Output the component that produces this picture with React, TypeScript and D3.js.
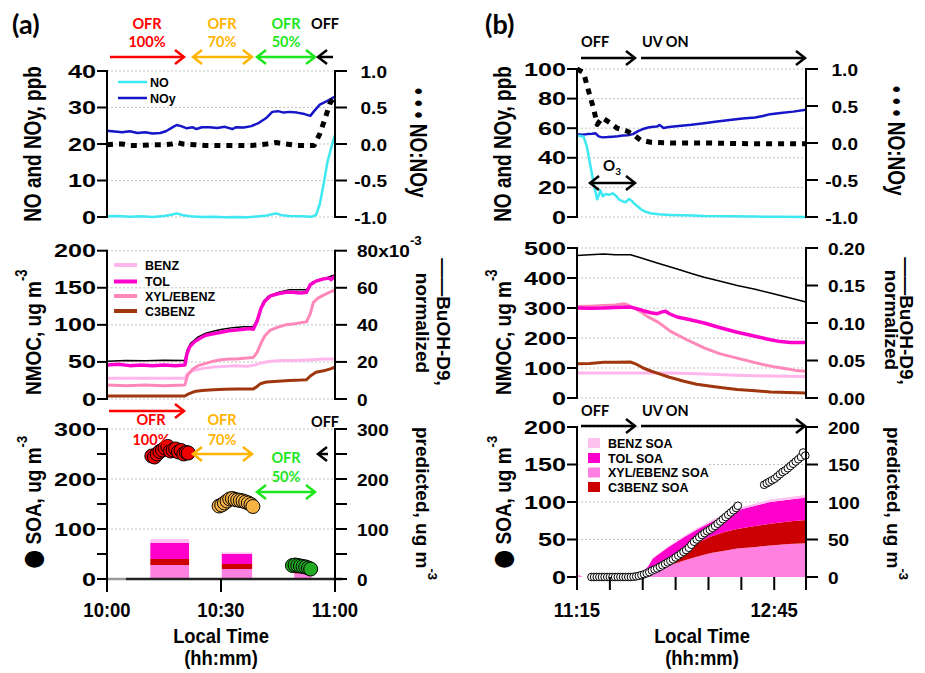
import React, { useRef, useEffect } from 'react';
import * as d3 from 'd3';

type Pt = [number, number];

// ---------- panel (a): minutes after 10:00 ----------
const aNO: Pt[] = [[0, 0.2], [3, 0.3], [6, 0.1], [9, 0.2], [12, 0.0], [15, 0.3], [17, 0.6], [18.3, 1.0], [20, 0.5], [22, 0.2], [25, 0.0], [28, 0.1], [31, -0.1], [34, 0.0], [37, -0.1], [40, 0.2], [42, 0.4], [44.5, 1.0], [46, 0.5], [48, 0.3], [51, 0.2], [54, 0.1], [55, 0.6], [56, 3.5], [57, 9], [58, 15], [59, 19], [60, 22.5]];
const aNOy: Pt[] = [[0, 23.6], [2, 23.4], [4, 23.2], [6, 23.5], [8, 23.0], [10, 23.2], [12, 22.9], [14, 23.0], [15.5, 23.5], [17, 24.4], [18.3, 25.2], [19.5, 24.9], [21, 24.3], [22.5, 24.6], [23.5, 24.1], [25, 24.6], [27, 24.6], [29, 24.4], [31, 24.7], [33, 24.1], [34, 24.6], [36, 24.5], [38, 24.9], [40, 25.8], [42, 27.2], [43.5, 28.8], [45, 29.0], [46.5, 28.6], [48, 28.8], [50, 28.6], [52, 28.2], [53.5, 27.7], [54.5, 29.0], [56, 30.8], [58, 31.8], [60, 33.0]];
const aRatio: Pt[] = [[0, -0.01], [2, 0.0], [4, 0.0], [6, -0.02], [9, -0.02], [12, -0.01], [15, -0.01], [17, 0.0], [18.5, 0.02], [20, 0.0], [23, -0.01], [26, -0.02], [30, -0.02], [34, -0.02], [38, -0.02], [40, -0.01], [42, 0.0], [44.5, 0.02], [47, 0.0], [50, -0.02], [54.5, -0.02], [56, 0.14], [57.4, 0.35], [58.7, 0.56], [60, 0.66]];

const aTOL: Pt[] = [[0, 46], [3, 47], [6, 45], [9, 46], [12, 45], [15, 46], [18, 45], [20.5, 46], [21, 60], [21.7, 70], [23, 77], [24.5, 82], [26, 86], [28, 88], [30, 90], [32, 92], [34, 93], [36, 94], [37.5, 95], [38.5, 94], [39.5, 105], [40.5, 122], [41.5, 132], [43, 139], [45, 142], [47, 144], [49, 144], [51, 143], [52.5, 144], [53.5, 154], [55, 159], [57, 162], [58.5, 163], [59, 161], [60, 166]];
const aBuOH: Pt[] = [[0, 20.4], [5, 20.8], [10, 20.7], [15, 20.9], [20.5, 20.8], [21, 26], [22, 30], [24, 33.5], [26, 35.5], [28, 36.5], [30, 37.5], [33, 38.5], [36, 39], [38.5, 39], [40, 45], [41, 52], [42.5, 55.5], [45, 57.5], [48, 59], [50, 59], [52.5, 59], [54, 63], [56, 64.5], [58, 65.5], [60, 67]];
const aXYL: Pt[] = [[0, 19], [5, 18], [10, 19], [15, 18], [20.5, 19], [21.2, 32], [22.5, 40], [24, 45], [26, 48], [28, 51], [30, 53], [32, 54], [34, 54], [36, 55], [38.5, 56], [39.5, 63], [40.5, 75], [41.5, 85], [43, 93], [45, 97], [47, 100], [49, 101], [51, 103], [52.5, 104], [53.5, 115], [54.3, 130], [55.5, 136], [57, 140], [59, 145], [60, 147]];
const aBENZ: Pt[] = [[0, 28], [10, 28], [20.5, 28], [21.2, 34], [22.5, 38], [25, 41], [28, 43], [31, 44], [34, 45], [37, 44], [39, 46], [41, 49], [43, 51], [46, 52], [50, 52], [54, 53], [57, 54], [60, 54]];
const aC3: Pt[] = [[0, 4], [10, 4], [20.5, 4], [21.5, 7], [23, 10], [25, 11.5], [28, 12.5], [31, 13], [34, 13.5], [38.5, 13.5], [39.5, 17], [40.5, 21], [42, 23], [45, 24], [48, 25], [51, 25.5], [52.5, 26], [53.5, 31], [55, 36], [57, 38], [59, 41], [60, 43]];

const aSoaRed: Pt[] = [[11.8, 246], [12.5, 244], [13.2, 250], [13.9, 255], [14.6, 258], [15.3, 262], [16.0, 265], [16.7, 256], [17.4, 258], [18.1, 260], [18.8, 254], [19.5, 257], [20.2, 250], [20.9, 253], [21.4, 252]];
const aSoaOrange: Pt[] = [[29.5, 146], [30.2, 148], [30.9, 152], [31.6, 156], [32.3, 160], [33, 161], [33.7, 159], [34.4, 158], [35.1, 157], [35.8, 156], [36.5, 154], [37.2, 152], [37.9, 149], [38.4, 145]];
const aSoaGreen: Pt[] = [[48.8, 27], [49.5, 28], [50.2, 27], [50.9, 26], [51.6, 25], [52.3, 24], [53, 22], [53.6, 20]];

const aBarStart = [11.4, 30.2, 49.3];
const aBarEnd = [21.6, 38.2, 53.8];
const aXylSoa = [28, 20, 11];
const aC3Soa = [12, 10, 6];
const aTolSoa = [32, 20, 4];
const aBenzSoa = [8, 3, 2];

// ---------- panel (b): minutes after 11:15 ----------
const bNOy: Pt[] = [[0, 56], [2.3, 55.6], [4.6, 56], [7, 56.2], [8.4, 56.6], [9.9, 54.5], [11.6, 53.8], [13.9, 54], [16.3, 54.3], [18.6, 54.6], [20.9, 55], [23.2, 55.2], [25.5, 56], [27.9, 58], [30.2, 59.5], [32.5, 60.5], [34.8, 61], [36.6, 61.2], [37.7, 62.2], [39.5, 60.2], [41.8, 60.8], [46.4, 61.5], [52.2, 62.3], [58, 63.3], [63.9, 64.5], [69.7, 65.5], [75.5, 66.5], [81.3, 67.2], [84.8, 68.2], [88.2, 69.5], [92.9, 70.3], [98.7, 71.2], [104.5, 72.5]];
const bNO: Pt[] = [[0, 55], [3, 54.4], [4.5, 47.6], [6.2, 34], [7.9, 20.5], [9.2, 12], [10, 15], [10.7, 18], [11.8, 14], [13, 15.5], [14.5, 15], [16.3, 16], [18, 14], [19, 12], [20.9, 10.5], [22.3, 10], [23.7, 12.2], [25, 11], [25.9, 9.3], [27.9, 7], [29, 5.4], [31.3, 3.5], [33.6, 2.5], [37.2, 1.8], [42.7, 1.4], [52.2, 1.0], [58, 0.7], [69.7, 0.5], [81.3, 0.3], [92.9, 0.1], [104.5, 0]];
const bRatio: Pt[] = [[0, 1.0], [3, 0.95], [5.3, 0.7], [7.7, 0.45], [9.2, 0.25], [11.5, 0.34], [15.2, 0.27], [18.3, 0.2], [22.9, 0.16], [25.9, 0.11], [29, 0.04], [33.6, 0.01], [42.7, 0.0], [58, 0.0], [81.3, -0.01], [104.5, -0.01]];

const bBuOH: Pt[] = [[0, 0.19], [5.8, 0.191], [12.2, 0.192], [17.4, 0.191], [24.4, 0.191], [29, 0.187], [36.6, 0.18], [45.7, 0.172], [52.2, 0.166], [58, 0.161], [65, 0.156], [73.1, 0.15], [81.3, 0.145], [88.2, 0.14], [96.4, 0.134], [104.5, 0.128]];
const bTOL: Pt[] = [[0, 300], [5.8, 299], [12.2, 300], [17.4, 302], [24.4, 303], [27.3, 298], [30.2, 291], [33.7, 284], [36.6, 281], [38.9, 287], [40.4, 289], [42.4, 280], [45.7, 270], [52.2, 260], [58, 250], [65, 235], [73.1, 219], [81.3, 206], [88.2, 194], [92.9, 188], [97.5, 185], [104.5, 185]];
const bXYL: Pt[] = [[0, 305], [5.8, 306], [12.2, 308], [17.4, 310], [21.4, 314], [23.2, 310], [25.9, 300], [29, 288], [32, 272], [37.2, 252], [42.7, 222], [49.9, 195], [58, 167], [65, 148], [73.1, 133], [79, 122], [85.4, 111], [90.6, 103], [96.1, 97], [99.8, 92], [104.5, 89]];
const bBENZ: Pt[] = [[0, 83], [23.2, 83], [42.7, 83], [58, 80], [73.1, 76], [88.2, 73], [104.5, 72]];
const bC3: Pt[] = [[0, 114], [5.8, 115], [12.2, 119], [17.4, 119], [24.4, 120], [26.7, 114], [30.2, 100], [33.7, 90], [36.6, 83], [41.8, 70], [48.8, 56], [54.6, 46], [61.1, 39], [67.3, 33], [73.1, 28], [81.3, 24], [88.2, 20], [96.4, 18], [104.5, 17]];

const bSoaMeas: Pt[] = [[6.6, 0], [7.8, 0], [9.0, 0], [10.2, 0], [11.4, 0], [12.6, 0], [13.8, 0], [15.0, 0], [16.2, 0], [17.4, 0], [18.6, 0], [19.8, 0], [21.0, 0], [22.2, 0], [23.4, 0], [24.6, 0], [25.8, 0.3], [27.0, 0.8], [28.2, 1.5], [29.4, 2.5], [30.6, 3.6], [31.8, 5], [33.0, 6.5], [34.2, 8.5], [35.4, 10], [36.6, 11.5], [37.8, 13.5], [39.0, 15.5], [40.2, 17.5], [41.4, 19.5], [42.6, 21.5], [43.8, 23.5], [45.0, 26], [46.2, 28.5], [47.4, 31], [48.6, 33.5], [49.8, 36], [51.0, 39], [52.2, 43], [53.4, 47], [54.6, 50], [55.8, 53], [57.0, 56], [58.2, 58.5], [59.4, 61], [60.6, 63], [61.8, 65.5], [63.0, 68], [64.2, 71], [65.4, 74], [66.6, 77], [67.8, 80], [69.0, 83], [70.2, 86], [71.4, 89], [72.6, 92], [73.4, 95], [85.4, 123], [86.6, 125], [87.8, 127], [89.0, 129], [90.2, 131], [91.4, 134], [92.6, 137], [93.8, 140], [95.0, 142], [96.2, 145], [97.4, 148], [98.6, 151], [99.8, 154], [101.0, 157], [102.2, 160], [103.2, 166], [104.2, 162]];

const bSoaTime = [0, 1.2, 2.3, 3.5, 25.5, 27.9, 30.2, 32.5, 34.5, 36.6, 41.8, 48.8, 54.6, 61.1, 67.3, 73.1, 81.3, 88.2, 96.4, 104.5];
const bXylSoa = [1.5, 1.5, 0.5, 0, 0, 0.3, 1.5, 4, 6.5, 9, 15, 22, 27, 32, 35, 38, 40, 42, 44, 45];
const bC3Soa = [0, 0, 0, 0, 0, 0.5, 2, 3.5, 5, 7, 10, 14, 18, 22, 25, 26, 28, 29, 30, 31];
const bTolSoa = [0.5, 0.5, 0, 0, 0, 1, 3.5, 7, 13, 13, 15, 17, 18, 19, 22, 25, 27, 29, 29, 30];
const bBenzSoa = [0, 0, 0, 0, 0, 0.2, 0.3, 0.5, 0.8, 1, 1.5, 1.8, 2, 2.3, 2.5, 2.8, 3, 3.2, 3.4, 3.6];

// ---------- tick labels ----------
const aXTicks = [0, 30, 60];
const aXLabels = ['10:00', '10:30', '11:00'];
const bXTicks = [0, 15, 30, 45, 60, 75, 90];
const bXLabels = ['11:15', '', '', '', '', '', '12:45'];

const FONT = "'Liberation Sans', Arial, sans-serif";
const LFONT = "Lato, 'Open Sans', sans-serif";
const C = {
  no: '#3ee8f2', noy: '#1616c8', benz: '#ffb6ec', tol: '#ff00cc', xyl: '#ff88bb', c3: '#a0360e',
  benzSoa: '#ffc2f0', tolSoa: '#ff00cc', xylSoa: '#ff80e0', c3Soa: '#cc0000',
  red: '#ff0000', orange: '#ffb400', green: '#1ee61e',
};

export default function App() {
  const ref = useRef<SVGSVGElement>(null);

  useEffect(() => {
    if (!ref.current) return;
    const svg = d3.select(ref.current);
    svg.selectAll('*').remove();
    svg.append('rect').attr('width', 925).attr('height', 673).attr('fill', '#fff');

    // scales
    const aX = d3.scaleLinear().domain([0, 60]).range([107, 335]);
    const bX = d3.scaleLinear().domain([0, 104.5]).range([577, 806]);
    const aTopY = d3.scaleLinear().domain([0, 40]).range([217, 71]);
    const aTopY2 = d3.scaleLinear().domain([-1, 1]).range([217, 71]);
    const aMidY = d3.scaleLinear().domain([0, 200]).range([399, 250.7]);
    const aMidY2 = d3.scaleLinear().domain([0, 80]).range([399, 250.7]);
    const aBotY = d3.scaleLinear().domain([0, 300]).range([579, 429]);
    const bTopY = d3.scaleLinear().domain([0, 100]).range([217, 69]);
    const bTopY2 = d3.scaleLinear().domain([-1, 1]).range([217, 69]);
    const bMidY = d3.scaleLinear().domain([0, 500]).range([398, 248]);
    const bMidY2 = d3.scaleLinear().domain([0, 0.2]).range([398, 248]);
    const bBotY = d3.scaleLinear().domain([0, 200]).range([577, 427]);

    const grid = (x0: number, x1: number, y: any, vals: number[]) => {
      vals.forEach(v => {
        svg.append('line').attr('x1', x0).attr('x2', x1).attr('y1', y(v)).attr('y2', y(v))
          .attr('stroke', '#c4c4c4').attr('stroke-width', 1).attr('stroke-dasharray', '2,2');
      });
    };

    const path = (data: Pt[], x: any, y: any, color: string, w: number, dash?: string) => {
      const p = svg.append('path').datum(data)
        .attr('fill', 'none').attr('stroke', color).attr('stroke-width', w)
        .attr('stroke-linejoin', 'round')
        .attr('d', d3.line<Pt>().x(d => x(d[0])).y(d => y(d[1])));
      if (dash) p.attr('stroke-dasharray', dash);
    };

    const leftAxis = (x0: number, y: any, ticks: number[], labelled: number[], bottom?: number) => {
      const [lo, hi] = y.domain();
      svg.append('line').attr('x1', x0).attr('x2', x0).attr('y1', y(hi) - 1).attr('y2', bottom ?? y(lo) + 1)
        .attr('stroke', '#000').attr('stroke-width', 2);
      ticks.forEach(t => {
        svg.append('line').attr('x1', x0 - 10).attr('x2', x0).attr('y1', y(t)).attr('y2', y(t))
          .attr('stroke', '#000').attr('stroke-width', 2);
      });
      labelled.forEach(t => {
        svg.append('text').attr('transform', `translate(${x0 - 11},${y(t) + 6.5}) scale(1.4,1)`)
          .attr('text-anchor', 'end').attr('font-family', FONT).attr('font-weight', 'bold')
          .attr('font-size', 18).text(String(t));
      });
    };

    const rightAxis = (x0: number, y: any, ticks: number[], labels: [number, string][], align: string, bottom?: number) => {
      const [lo, hi] = y.domain();
      svg.append('line').attr('x1', x0).attr('x2', x0).attr('y1', y(hi) - 1).attr('y2', bottom ?? y(lo) + 1)
        .attr('stroke', '#000').attr('stroke-width', 2);
      ticks.forEach(t => {
        svg.append('line').attr('x1', x0).attr('x2', x0 + 12).attr('y1', y(t)).attr('y2', y(t))
          .attr('stroke', '#000').attr('stroke-width', 2);
      });
      labels.forEach(([t, s]) => {
        const tx = align === 'end' ? x0 + 52 : x0 + 22;
        const el = svg.append('text').attr('transform', `translate(${tx},${y(t) + 6.5}) scale(1.12,1)`)
          .attr('text-anchor', align).attr('font-family', FONT).attr('font-weight', 'bold')
          .attr('font-size', 17);
        if (s.includes('^')) {
          const [base, sup] = s.split('^');
          el.append('tspan').text(base);
          el.append('tspan').attr('font-size', 12).attr('dy', -12).text(sup);
        } else el.text(s);
      });
    };

    const xAxis = (x: any, y0: number, ticks: number[], labels: string[]) => {
      ticks.forEach((t, i) => {
        svg.append('line').attr('x1', x(t)).attr('x2', x(t)).attr('y1', y0).attr('y2', y0 + 13)
          .attr('stroke', '#000').attr('stroke-width', 2);
        if (labels[i]) {
          svg.append('text').attr('transform', `translate(${x(t)},617) scale(0.95,1)`)
            .attr('text-anchor', 'middle').attr('font-family', FONT).attr('font-weight', 'bold')
            .attr('font-size', 19.5).text(labels[i]);
        }
      });
    };

    // rotated titles; kind: '' plain, 'sup' superscript, 'big' large glyph
    const vtext = (x: number, y: number, angle: number, anchor: string, stretch: number, parts: [string, string][]) => {
      const el = svg.append('text').attr('transform', `translate(${x},${y}) rotate(${angle}) scale(1,${stretch})`)
        .attr('text-anchor', anchor).attr('font-family', FONT).attr('font-weight', 'bold').attr('font-size', 19);
      parts.forEach(([s, kind]) => {
        const ts = el.append('tspan').text(s);
        if (kind === 'sup') ts.attr('font-size', 13).attr('dy', -12);
        if (kind === 'big') ts.attr('font-size', 22).attr('font-family', "'DejaVu Sans', sans-serif");
      });
    };

    const label = (x: number, y: number, s: string, color: string, anchor = 'middle', size = 14.5) => {
      svg.append('text').attr('x', x).attr('y', y).attr('text-anchor', anchor)
        .attr('font-family', LFONT).attr('font-weight', 'bold').attr('font-size', size)
        .attr('fill', color).text(s);
    };

    const arrow = (x1: number, x2: number, y: number, color: string, start: boolean, end: boolean) => {
      svg.append('line').attr('x1', x1).attr('x2', x2).attr('y1', y).attr('y2', y)
        .attr('stroke', color).attr('stroke-width', 2.5);
      const head = (xt: number, dir: number) => {
        svg.append('polyline').attr('points', `${xt - dir * 9},${y - 7} ${xt},${y} ${xt - dir * 9},${y + 7}`)
          .attr('fill', 'none').attr('stroke', color).attr('stroke-width', 2.5);
      };
      if (end) head(x2, 1);
      if (start) head(x1, -1);
    };

    const dots = (data: Pt[], x: any, y: any, fill: string, r: number) => {
      svg.append('g').selectAll('circle').data(data).enter().append('circle')
        .attr('cx', d => x(d[0])).attr('cy', d => y(d[1])).attr('r', r)
        .attr('fill', fill).attr('stroke', '#000').attr('stroke-width', 1);
    };

    // ================= panel (a) =================
    grid(107, 335, aTopY, [0, 10, 20, 30, 40]);
    grid(107, 335, aMidY, [0, 50, 100, 150, 200]);
    grid(107, 335, aBotY, [100, 200, 300]);

    path(aNOy, aX, aTopY, C.noy, 2.5);
    path(aNO, aX, aTopY, C.no, 2.5);
    path(aRatio, aX, aTopY2, '#000', 5, '6,6');

    path(aBuOH, aX, aMidY2, '#000', 1.5);
    path(aBENZ, aX, aMidY, C.benz, 3);
    path(aC3, aX, aMidY, C.c3, 3);
    path(aXYL, aX, aMidY, C.xyl, 3);
    path(aTOL, aX, aMidY, C.tol, 3.5);

    // predicted SOA stacks
    aBarStart.forEach((s, i) => {
      const parts: [number, string][] = [[aXylSoa[i], C.xylSoa], [aC3Soa[i], C.c3Soa], [aTolSoa[i], C.tolSoa], [aBenzSoa[i], C.benzSoa]];
      let acc = 0;
      parts.forEach(([v, col]) => {
        svg.append('rect').attr('x', aX(s)).attr('width', aX(aBarEnd[i]) - aX(s))
          .attr('y', aBotY(acc + v)).attr('height', aBotY(acc) - aBotY(acc + v)).attr('fill', col);
        acc += v;
      });
    });
    svg.append('line').attr('x1', aX(0)).attr('x2', aX(5)).attr('y1', aBotY(0)).attr('y2', aBotY(0))
      .attr('stroke', '#999').attr('stroke-width', 2.5);
    svg.append('line').attr('x1', aX(5)).attr('x2', aX(62)).attr('y1', aBotY(0)).attr('y2', aBotY(0))
      .attr('stroke', '#222').attr('stroke-width', 2.5);

    dots(aSoaRed, aX, aBotY, '#ee0000', 7);
    dots(aSoaOrange, aX, aBotY, '#f6b344', 7);
    dots(aSoaGreen, aX, aBotY, '#22aa22', 7);

    leftAxis(107, aTopY, [0, 10, 20, 30, 40], [0, 10, 20, 30, 40]);
    rightAxis(335, aTopY2, [-1, -0.5, 0, 0.5, 1], [-1, -0.5, 0, 0.5, 1].map(v => [v, v.toFixed(1)] as [number, string]), 'end');
    leftAxis(107, aMidY, [0, 50, 100, 150, 200], [0, 50, 100, 150, 200]);
    rightAxis(335, aMidY2, [0, 20, 40, 60, 80], [[0, '0'], [20, '20'], [40, '40'], [60, '60'], [80, '80x10^-3']], 'start');
    leftAxis(107, aBotY, [0, 50, 100, 150, 200, 250, 300], [0, 100, 200, 300], 592);
    rightAxis(335, aBotY, [0, 50, 100, 150, 200, 250, 300], [[0, '0'], [100, '100'], [200, '200'], [300, '300']], 'start', 592);
    xAxis(aX, aBotY(0), aXTicks, aXLabels);

    // legends (a)
    [[C.no, 'NO', 82], [C.noy, 'NOy', 98]].forEach(([col, s, y]) => {
      svg.append('line').attr('x1', 118).attr('x2', 147).attr('y1', y).attr('y2', y).attr('stroke', col).attr('stroke-width', 2.5);
      svg.append('text').attr('x', 150).attr('y', +y + 4.5).attr('font-family', FONT).attr('font-weight', 'bold').attr('font-size', 12.5).text(s as string);
    });
    [[C.benz, 'BENZ', 265], [C.tol, 'TOL', 281.5], [C.xyl, 'XYL/EBENZ', 296], [C.c3, 'C3BENZ', 311]].forEach(([col, s, y]) => {
      svg.append('line').attr('x1', 114).attr('x2', 137).attr('y1', y).attr('y2', y).attr('stroke', col).attr('stroke-width', 4);
      svg.append('text').attr('x', 145).attr('y', +y + 4.5).attr('font-family', FONT).attr('font-weight', 'bold').attr('font-size', 12.5).text(s as string);
    });

    // annotations (a)
    svg.append('text').attr('x', 12).attr('y', 34).attr('font-family', LFONT).attr('font-weight', 'bold').attr('font-size', 27).text('(a)');
    label(147, 29, 'OFR', C.red); label(147, 47, '100%', C.red);
    label(222, 29, 'OFR', C.orange); label(222, 47, '70%', C.orange);
    label(286, 29, 'OFR', C.green); label(286, 47, '50%', C.green);
    label(325, 29, 'OFF', '#000');
    arrow(110, 184, 57, C.red, false, true);
    arrow(193, 252, 57, C.orange, true, true);
    arrow(257, 315, 57, C.green, true, true);
    arrow(318, 333, 57, '#000', true, false);

    arrow(109, 184, 411, C.red, false, true);
    label(151, 425, 'OFR', C.red); label(151, 445, '100%', C.red);
    label(222, 425, 'OFR', C.orange); label(222, 445, '70%', C.orange);
    arrow(193, 252, 454, C.orange, true, true);
    label(325, 427, 'OFF', '#000');
    arrow(318, 328, 454, '#000', true, false);
    label(286, 463, 'OFR', C.green); label(286, 482, '50%', C.green);
    arrow(257, 315, 492, C.green, true, true);

    // axis titles (a)
    vtext(41, 144, -90, 'middle', 1.3, [['NO and NOy, ppb', '']]);
    vtext(41, 395, -90, 'start', 1.2, [['NMOC, ug m', ''], ['-3', 'sup']]);
    vtext(41, 569, -90, 'start', 1.15, [['\u25CF', 'big'], ['  SOA, ug m', ''], ['-3', 'sup']]);
    vtext(410, 88, 90, 'start', 1.3, [['\u2022 \u2022 \u2022  NO:NOy', '']]);
    vtext(437, 322, 90, 'middle', 1, [['\u2014\u2014BuOH-D9,', '']]);
    vtext(416, 323, 90, 'middle', 1, [['normalized', '']]);
    vtext(416, 427, 90, 'start', 1, [['predicted, ug m', ''], ['-3', 'sup']]);

    // ================= panel (b) =================
    grid(577, 806, bTopY, [0, 20, 40, 60, 80, 100]);
    grid(577, 806, bMidY, [0, 100, 200, 300, 400, 500]);
    grid(577, 806, bBotY, [50, 100, 150, 200]);

    path(bNOy, bX, bTopY, C.noy, 2.5);
    path(bNO, bX, bTopY, C.no, 2.5);
    path(bRatio, bX, bTopY2, '#000', 5, '6,6');

    path(bBuOH, bX, bMidY2, '#000', 1.5);
    path(bBENZ, bX, bMidY, C.benz, 3);
    path(bC3, bX, bMidY, C.c3, 3);
    path(bXYL, bX, bMidY, C.xyl, 3);
    path(bTOL, bX, bMidY, C.tol, 3.5);

    const rows = bSoaTime.map((t, i) => ({ t, xyl: bXylSoa[i], c3: bC3Soa[i], tol: bTolSoa[i], benz: bBenzSoa[i] }));
    const stacked = d3.stack<any>().keys(['xyl', 'c3', 'tol', 'benz'])(rows);
    const soaColors: Record<string, string> = { xyl: C.xylSoa, c3: C.c3Soa, tol: C.tolSoa, benz: C.benzSoa };
    const area = d3.area<any>().x(d => bX(d.data.t)).y0(d => bBotY(d[0])).y1(d => bBotY(d[1]));
    stacked.forEach(s => {
      svg.append('path').datum(s).attr('fill', soaColors[s.key]).attr('d', area);
    });
    dots(bSoaMeas, bX, bBotY, '#fff', 3.8);

    // legend (b) bottom
    svg.append('rect').attr('x', 579).attr('y', 433).attr('width', 130).attr('height', 62).attr('fill', '#fff');
    [[C.benzSoa, 'BENZ SOA', 443], [C.tolSoa, 'TOL SOA', 458], [C.xylSoa, 'XYL/EBENZ SOA', 472.5], [C.c3Soa, 'C3BENZ SOA', 487]].forEach(([col, s, y]) => {
      svg.append('rect').attr('x', 588).attr('y', +y - 5).attr('width', 12).attr('height', 10).attr('fill', col);
      svg.append('text').attr('x', 608).attr('y', +y + 4.5).attr('font-family', FONT).attr('font-weight', 'bold').attr('font-size', 12.5).text(s as string);
    });

    leftAxis(577, bTopY, [0, 20, 40, 60, 80, 100], [0, 20, 40, 60, 80, 100]);
    rightAxis(806, bTopY2, [-1, -0.5, 0, 0.5, 1], [-1, -0.5, 0, 0.5, 1].map(v => [v, v.toFixed(1)] as [number, string]), 'end');
    leftAxis(577, bMidY, [0, 100, 200, 300, 400, 500], [0, 100, 200, 300, 400, 500]);
    rightAxis(806, bMidY2, [0, 0.05, 0.1, 0.15, 0.2], [0, 0.05, 0.1, 0.15, 0.2].map(v => [v, v.toFixed(2)] as [number, string]), 'start');
    leftAxis(577, bBotY, [0, 50, 100, 150, 200], [0, 50, 100, 150, 200], 590);
    rightAxis(806, bBotY, [0, 50, 100, 150, 200], [0, 50, 100, 150, 200].map(v => [v, String(v)] as [number, string]), 'start', 590);
    xAxis(bX, bBotY(0), bXTicks, bXLabels);

    // annotations (b)
    svg.append('text').attr('x', 485).attr('y', 34).attr('font-family', LFONT).attr('font-weight', 'bold').attr('font-size', 27).text('(b)');
    label(581, 47, 'OFF', '#000', 'start');
    label(642, 47, 'UV ON', '#000', 'start');
    arrow(581, 635, 58, '#000', false, true);
    arrow(641, 805, 58, '#000', false, true);
    arrow(590, 635, 183, '#000', true, true);
    const o3 = svg.append('text').attr('x', 603).attr('y', 171).attr('font-family', LFONT).attr('font-weight', 'bold').attr('font-size', 15);
    o3.append('tspan').text('O');
    o3.append('tspan').attr('font-size', 10).attr('dy', 4).text('3');
    label(581, 416, 'OFF', '#000', 'start');
    label(642, 416, 'UV ON', '#000', 'start');
    arrow(581, 635, 426, '#000', false, true);
    arrow(641, 805, 426, '#000', false, true);

    vtext(511, 144, -90, 'middle', 1.3, [['NO and NOy, ppb', '']]);
    vtext(511, 395, -90, 'start', 1.2, [['NMOC, ug m', ''], ['-3', 'sup']]);
    vtext(511, 569, -90, 'start', 1.15, [['\u25CF', 'big'], ['  SOA, ug m', ''], ['-3', 'sup']]);
    vtext(888, 86, 90, 'start', 1.3, [['\u2022 \u2022 \u2022  NO:NOy', '']]);
    vtext(900, 321, 90, 'middle', 1, [['\u2014\u2014BuOH-D9,', '']]);
    vtext(885, 320, 90, 'middle', 1, [['normalized', '']]);
    vtext(887, 427, 90, 'start', 1, [['predicted, ug m', ''], ['-3', 'sup']]);

    // x titles
    [221, 702].forEach(cx => {
      svg.append('text').attr('transform', `translate(${cx},643) scale(0.92,1)`).attr('text-anchor', 'middle')
        .attr('font-family', FONT).attr('font-weight', 'bold').attr('font-size', 20).text('Local Time');
      svg.append('text').attr('transform', `translate(${cx},665) scale(0.92,1)`).attr('text-anchor', 'middle')
        .attr('font-family', FONT).attr('font-weight', 'bold').attr('font-size', 20).text('(hh:mm)');
    });
  }, []);

  return (
    <svg
      ref={ref}
      width={925}
      height={673}
      style={{ position: 'absolute', left: 0, top: 0 }}
    />
  );
}
